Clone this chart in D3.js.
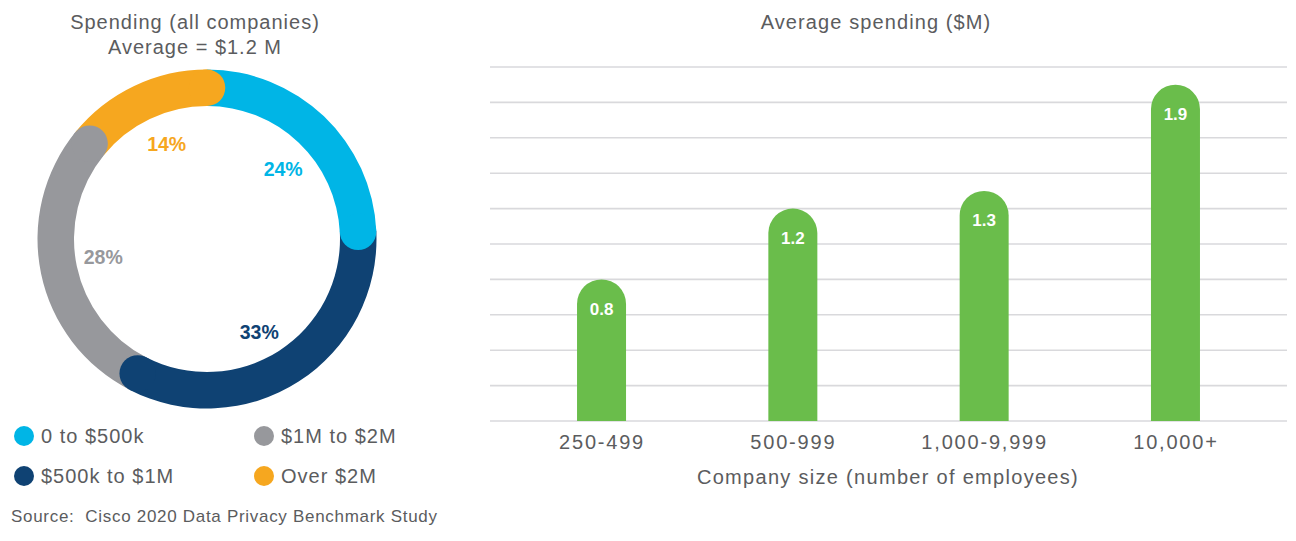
<!DOCTYPE html>
<html>
<head>
<meta charset="utf-8">
<script src="https://cdn.jsdelivr.net/npm/d3@7"></script>
<style>
  html, body { margin: 0; padding: 0; background: #ffffff; }
  svg { display: block; font-family: "Liberation Sans", Arial, sans-serif; }
</style>
</head>
<body>
<svg id="chart" width="1296" height="541"></svg>
<script>
// ---- Data ----
const donutLabels = ["0 to $500k", "$500k to $1M", "$1M to $2M", "Over $2M"];
const donutValues = [24, 33, 28, 14];
const donutColors = ["#00b5e6", "#0f4273", "#97989c", "#f6a71f"];

const barCategories = ["250-499", "500-999", "1,000-9,999", "10,000+"];
const barValues = [0.8, 1.2, 1.3, 1.9];
const yTicks = [0, 0.2, 0.4, 0.6, 0.8, 1.0, 1.2, 1.4, 1.6, 1.8, 2.0];

const textColor = "#5b5c5e";
const svg = d3.select("#chart");

// ---- Donut ----
const cx = 207, cy = 239, rOuter = 169.5, rInner = 133;
const rMid = (rOuter + rInner) / 2, capR = (rOuter - rInner) / 2;

svg.append("text").attr("x", 195).attr("y", 29).attr("text-anchor", "middle")
  .attr("font-size", 20).attr("letter-spacing", 1).attr("fill", textColor).text("Spending (all companies)");
svg.append("text").attr("x", 195).attr("y", 54).attr("text-anchor", "middle")
  .attr("font-size", 20).attr("letter-spacing", 1).attr("fill", textColor).text("Average = $1.2 M");

const pie = d3.pie().sort(null).value(d => d)(donutValues);
const arc = d3.arc().innerRadius(rInner).outerRadius(rOuter);
const g = svg.append("g").attr("transform", `translate(${cx},${cy})`);

g.selectAll("path.seg").data(pie).join("path").attr("class", "seg")
  .attr("d", arc).attr("fill", (d, i) => donutColors[i]);

// rounded end caps (drawn after all arcs so each overlaps the next segment)
g.selectAll("circle.cap").data(pie).join("circle").attr("class", "cap")
  .attr("cx", d => rMid * Math.sin(d.endAngle))
  .attr("cy", d => -rMid * Math.cos(d.endAngle))
  .attr("r", capR)
  .attr("fill", (d, i) => donutColors[i]);

const labelR = 105;
g.selectAll("text.pct").data(pie).join("text").attr("class", "pct")
  .attr("x", d => labelR * Math.sin((d.startAngle + d.endAngle) / 2 + 0.05))
  .attr("y", d => -labelR * Math.cos((d.startAngle + d.endAngle) / 2 + 0.05))
  .attr("dy", "0.45em")
  .attr("text-anchor", "middle")
  .attr("font-size", 19.5).attr("font-weight", "bold")
  .attr("fill", (d, i) => donutColors[i])
  .text(d => d.data + "%");

// ---- Legend ----
const legPos = [[24, 436], [24, 476], [264, 436], [264, 476]];
const leg = svg.selectAll("g.leg").data(donutLabels).join("g").attr("class", "leg")
  .attr("transform", (d, i) => `translate(${legPos[i][0]},${legPos[i][1]})`);
leg.append("circle").attr("r", 10).attr("fill", (d, i) => donutColors[i]);
leg.append("text").attr("x", 17).attr("dy", "0.36em").attr("font-size", 20)
  .attr("letter-spacing", 1).attr("fill", textColor).text(d => d);

svg.append("text").attr("x", 11).attr("y", 522).attr("font-size", 17)
  .attr("letter-spacing", 0.7).style("white-space", "pre")
  .attr("fill", textColor).text("Source:  Cisco 2020 Data Privacy Benchmark Study");

// ---- Bar chart ----
const x = d3.scalePoint().domain(barCategories).range([490, 1287]).padding(0.583);
const y = d3.scaleLinear().domain([0, 2]).range([421, 67]);
const barW = 49;

svg.append("text").attr("x", 876).attr("y", 29).attr("text-anchor", "middle")
  .attr("font-size", 20).attr("letter-spacing", 1.1).attr("fill", textColor).text("Average spending ($M)");

svg.append("g").selectAll("line").data(yTicks).join("line")
  .attr("x1", 490).attr("x2", 1287)
  .attr("y1", d => y(d)).attr("y2", d => y(d))
  .attr("stroke", "#d9d9dc").attr("stroke-width", 1.6);

const barData = barCategories.map((c, i) => ({ c, v: barValues[i] }));
svg.append("g").selectAll("path").data(barData).join("path")
  .attr("d", d => {
    const x0 = x(d.c) - barW / 2, x1 = x(d.c) + barW / 2, r = barW / 2;
    const top = y(d.v), base = y(0);
    return `M${x0},${base} L${x0},${top + r} A${r},${r} 0 0 1 ${x1},${top + r} L${x1},${base} Z`;
  })
  .attr("fill", "#6abd4b");

svg.append("g").selectAll("text").data(barData).join("text")
  .attr("x", d => x(d.c)).attr("y", d => y(d.v) + 29)
  .attr("dy", "0.36em").attr("text-anchor", "middle")
  .attr("font-size", 17).attr("font-weight", "bold").attr("fill", "#ffffff")
  .text(d => d.v.toFixed(1));

const xAxis = svg.append("g").attr("transform", `translate(0,${y(0)})`)
  .call(d3.axisBottom(x).tickSize(0).tickPadding(14));
xAxis.select(".domain").remove();
xAxis.selectAll("text").attr("font-size", 20).attr("fill", textColor)
  .attr("letter-spacing", 1.8)
  .attr("font-family", "'Liberation Sans', Arial, sans-serif");

svg.append("text").attr("x", 888).attr("y", 484).attr("text-anchor", "middle")
  .attr("font-size", 20).attr("fill", textColor).attr("letter-spacing", 1.3)
  .text("Company size (number of employees)");
</script>
</body>
</html>
